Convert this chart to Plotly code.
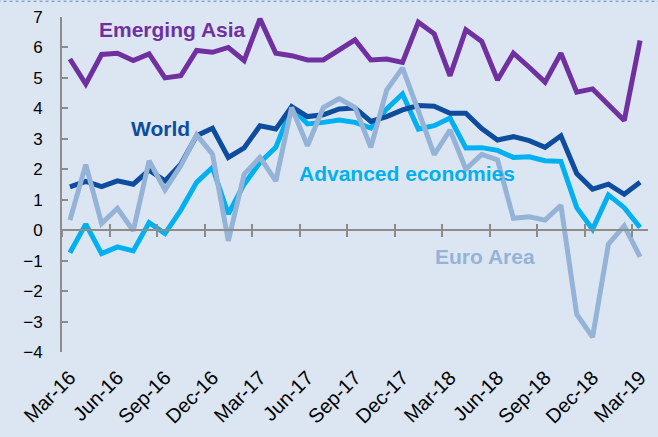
import plotly.graph_objects as go

months = ["Mar-16","Apr-16","May-16","Jun-16","Jul-16","Aug-16","Sep-16","Oct-16","Nov-16","Dec-16",
          "Jan-17","Feb-17","Mar-17","Apr-17","May-17","Jun-17","Jul-17","Aug-17","Sep-17","Oct-17",
          "Nov-17","Dec-17","Jan-18","Feb-18","Mar-18","Apr-18","May-18","Jun-18","Jul-18","Aug-18",
          "Sep-18","Oct-18","Nov-18","Dec-18","Jan-19","Feb-19","Mar-19"]

emerging_asia = [5.62, 4.80, 5.77, 5.81, 5.57, 5.79, 5.00, 5.07, 5.90, 5.84,
                 6.00, 5.57, 6.94, 5.81, 5.73, 5.59, 5.59, 5.90, 6.25, 5.59,
                 5.62, 5.51, 6.83, 6.45, 5.07, 6.58, 6.20, 4.93, 5.81, 5.35,
                 4.86, 5.81, 4.53, 4.64, 4.12, 3.60, 6.23]

world = [1.42, 1.60, 1.43, 1.62, 1.51, 1.97, 1.62, 2.17, 3.10, 3.35,
         2.39, 2.70, 3.43, 3.32, 4.06, 3.73, 3.79, 3.98, 4.01, 3.57,
         3.73, 3.95, 4.09, 4.07, 3.84, 3.84, 3.34, 2.96, 3.07, 2.94,
         2.72, 3.10, 1.86, 1.35, 1.51, 1.18, 1.57]

advanced = [-0.74, 0.20, -0.77, -0.55, -0.68, 0.25, -0.11, 0.66, 1.57, 2.06,
            0.53, 1.51, 2.22, 2.72, 4.03, 3.49, 3.54, 3.62, 3.54, 3.35,
            3.98, 4.47, 3.32, 3.43, 3.68, 2.70, 2.71, 2.62, 2.39, 2.41,
            2.28, 2.26, 0.74, 0.03, 1.16, 0.74, 0.09]

euro_area = [0.33, 2.15, 0.22, 0.72, -0.02, 2.28, 1.32, 2.12, 3.13, 2.50,
             -0.35, 1.84, 2.39, 1.62, 4.03, 2.77, 4.03, 4.32, 4.03, 2.72,
             4.60, 5.33, 3.92, 2.48, 3.29, 2.00, 2.49, 2.31, 0.39, 0.44,
             0.33, 0.82, -2.76, -3.51, -0.46, 0.14, -0.88]

tick_labels = months[::3]
tick_idx = list(range(0, len(months), 3))
boundary_ticks = [i - 0.5 for i in range(0, len(months), 3)]

x = list(range(len(months)))

BG = "#DCE6F2"
AX = "#8C8C8C"
FONT = "Liberation Sans, Arial, sans-serif"

fig = go.Figure()
fig.add_trace(go.Scatter(x=x, y=advanced, mode="lines", line=dict(color="#00B0F0", width=5), name="Advanced economies"))
fig.add_trace(go.Scatter(x=x, y=world, mode="lines", line=dict(color="#0E4C9E", width=5), name="World"))
fig.add_trace(go.Scatter(x=x, y=euro_area, mode="lines", line=dict(color="#95B3D7", width=5), name="Euro Area"))
fig.add_trace(go.Scatter(x=x, y=emerging_asia, mode="lines", line=dict(color="#7030A0", width=5), name="Emerging Asia"))
# helper traces to attach the zero-line axes
fig.add_trace(go.Scatter(x=[], y=[], xaxis="x2", yaxis="y", showlegend=False, hoverinfo="skip"))
fig.add_trace(go.Scatter(x=[], y=[], xaxis="x3", yaxis="y", showlegend=False, hoverinfo="skip"))

xr = [-0.5, len(months) - 0.5]
yr = [-4, 7]
zero_pos = (0 - yr[0]) / (yr[1] - yr[0])

fig.update_layout(
    width=658, height=437,
    margin=dict(l=62, r=10, t=17, b=85),
    paper_bgcolor=BG, plot_bgcolor=BG,
    showlegend=False,
    font=dict(family=FONT, color="#000000"),
    xaxis=dict(range=xr, tickmode="array", tickvals=tick_idx, ticktext=tick_labels,
               tickangle=-45, tickfont=dict(size=20, family=FONT, color="#000"), automargin=False,
               showgrid=False, zeroline=False, showline=False, ticks="", ticklabelstandoff=9),
    xaxis2=dict(range=xr, overlaying="x", anchor="free", position=zero_pos, automargin=False,
                tickmode="array", tickvals=boundary_ticks, showticklabels=False,
                ticks="outside", ticklen=6, tickwidth=2, tickcolor=AX,
                showline=True, linecolor=AX, linewidth=2, showgrid=False, zeroline=False),
    xaxis3=dict(range=xr, overlaying="x", anchor="free", position=zero_pos, automargin=False,
                tickmode="array", tickvals=boundary_ticks, showticklabels=False,
                ticks="inside", ticklen=6, tickwidth=2, tickcolor=AX,
                showline=False, showgrid=False, zeroline=False),
    yaxis=dict(range=yr, dtick=1, tick0=0, ticks="inside", ticklen=6, tickwidth=2, tickcolor=AX,
               showline=True, linecolor=AX, linewidth=2, showgrid=False, zeroline=False, automargin=False,
               ticklabelstandoff=14, tickfont=dict(size=17, family=FONT, color="#000")),
)

labels = [
    ("Emerging Asia", "#7030A0", 1.71, 6.59),
    ("World", "#0E4C9E", 3.73, 3.33),
    ("Advanced economies", "#00B0F0", 14.35, 1.85),
    ("Euro Area", "#95B3D7", 22.94, -0.85),
]
for txt, col, xi, yv in labels:
    fig.add_annotation(x=xi, y=yv, xref="x", yref="y", text="<b>%s</b>" % txt, showarrow=False,
                       xanchor="left", yanchor="middle", font=dict(size=21, color=col, family=FONT))

fig.add_shape(type="line", xref="paper", yref="paper", x0=-0.11, x1=1.02, y0=1.047, y1=1.047,
              line=dict(color="#5B8BD0", width=1, dash="dot"))

fig.write_html("out.html", config={"displayModeBar": False},
               post_script="document.body.style.margin='0';document.body.style.background='%s';" % BG)
